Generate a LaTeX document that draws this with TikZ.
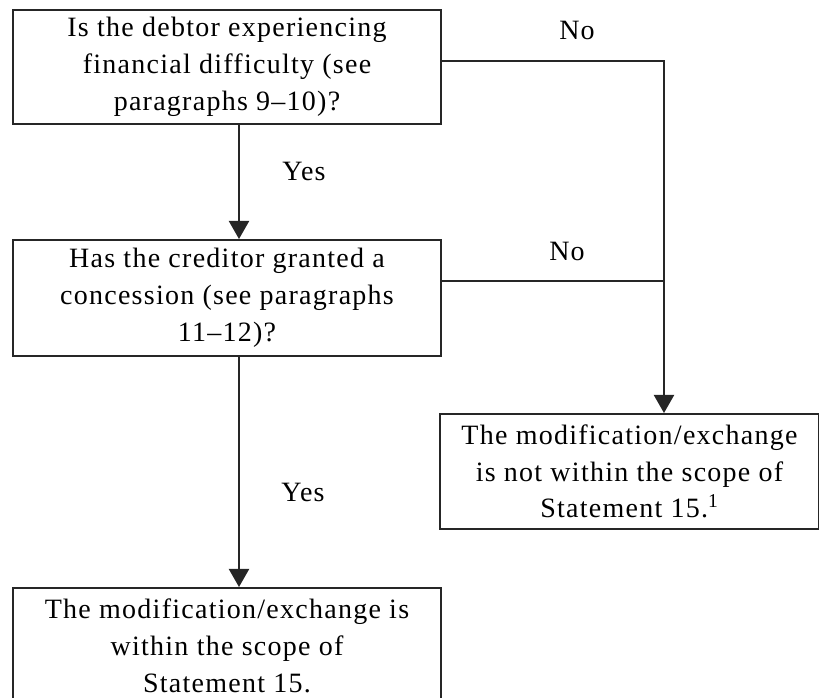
\documentclass[tikz,border=0pt]{standalone}
\usepackage{fontspec}
\setmainfont{Liberation Serif}[LetterSpace=4.5]
\usetikzlibrary{arrows.meta}
\begin{document}
\begin{tikzpicture}[x=0.75pt,y=-0.75pt,
  box/.style={draw=black!85, line width=1.5pt, align=center, inner sep=0pt,
    font=\fontsize{21}{27.6}\selectfont, anchor=north west},
  lbl/.style={font=\fontsize{21}{27.6}\selectfont, inner sep=0pt},
  conn/.style={draw=black!85, line width=1.5pt},
  arr/.style={conn, -{Triangle[width=15pt,length=13.5pt]}}]
\useasboundingbox (0,0) rectangle (819,698);
\clip (0,0) rectangle (819,698);
\node[box, minimum width=321pt, minimum height=85.5pt] (b1) at (12,9)
  {Is the debtor experiencing\\ financial difficulty (see\\ paragraphs 9--10)?};
\node[box, minimum width=321pt, minimum height=87pt] (b2) at (12,239)
  {Has the creditor granted a\\ concession (see paragraphs\\ 11--12)?};
\node[box, minimum width=284.25pt, minimum height=86.25pt] (b4) at (439,413)
  {The modification/exchange\\ is not within the scope of\\ Statement 15.\textsuperscript{1}};
\node[box, minimum width=321pt, minimum height=87pt] (b3) at (12,587)
  {The modification/exchange is\\ within the scope of\\ Statement 15.};
\coordinate (j1) at (664,61);
\coordinate (j2) at (664,281);
\draw[arr] ([xshift=9pt]b1.south) -- ([xshift=9pt]b2.north);
\draw[arr] ([xshift=9pt]b2.south) -- ([xshift=9pt]b3.north);
\draw[conn] (b1.east |- j1) -- (j1) -- (j2);
\draw[arr] (b2.east |- j2) -- (j2) -- (j2 |- b4.north);
\node[lbl] (no1) at (577,30) {No};
\node[lbl] (no2) at (567,251) {No};
\node[lbl] (yes1) at (304,171) {Yes};
\node[lbl] (yes2) at (303,492) {Yes};
\end{tikzpicture}
\end{document}
